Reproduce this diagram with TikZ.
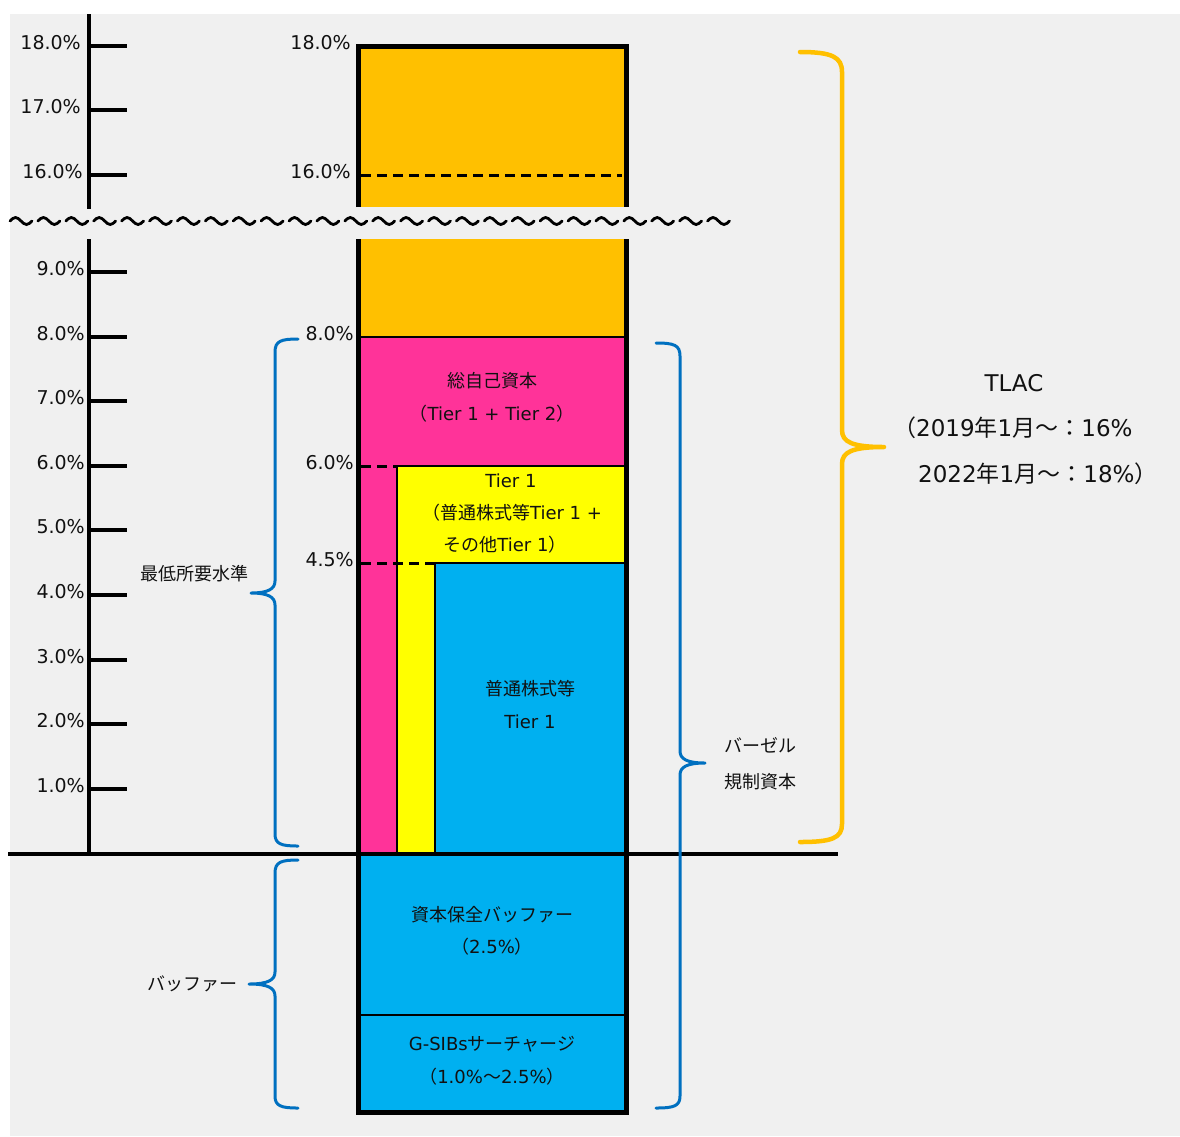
\documentclass[tikz,border=0pt]{standalone}
\usepackage{fontspec}
\setmainfont{DejaVu Sans}
\newfontfamily\jp{Noto Sans CJK JP}
\newcommand\J[1]{{\jp #1}}
\definecolor{bggray}{HTML}{F0F0F0}
\definecolor{orangefill}{HTML}{FFC000}
\definecolor{pinkfill}{HTML}{FF3399}
\definecolor{yellowfill}{HTML}{FFFF00}
\definecolor{bluefill}{HTML}{00B0F0}
\definecolor{bracecol}{HTML}{0070C0}
\definecolor{txtcol}{HTML}{111111}
\tikzset{
  lbl/.style={font=\fontsize{19}{22}\selectfont, text=txtcol, inner sep=0pt},
  txt/.style={font=\fontsize{18}{22}\selectfont, text=txtcol, inner sep=0pt},
  bigtxt/.style={font=\fontsize{23}{27}\selectfont, text=txtcol, inner sep=0pt},
  thick axis/.style={line width=4.5pt, draw=black},
  thinline/.style={line width=2pt, draw=black},
  dashline/.style={line width=3pt, draw=black, dash pattern=on 10pt off 6pt},
  border/.style={line width=5pt, draw=black, line join=miter},
  wavestyle/.style={line width=2.8pt, draw=black, line cap=round},
  bluebrace/.style={draw=bracecol, line width=3pt, line cap=round, line join=round},
  orangebrace/.style={draw=orangefill, line width=4.5pt, line cap=round, line join=round},
}
\begin{document}
\begin{tikzpicture}[x=1pt,y=-1pt]
\useasboundingbox (0,0) rectangle (1180,1136);
% background
\fill[bggray] (10,14) rectangle (1180,1136);

% column fills
\fill[orangefill] (358,46) rectangle (626,207);
\fill[orangefill] (358,239) rectangle (626,337);
\fill[pinkfill] (358,337) rectangle (626,854);
\fill[yellowfill] (397,466) rectangle (626,854);
\fill[bluefill] (435,563) rectangle (626,854);
\fill[bluefill] (358,854) rectangle (626,1112);

% thin dividers
\draw[thinline] (358,337) -- (626,337);
\draw[thinline] (397,466) -- (626,466);
\draw[thinline] (397,466) -- (397,854);
\draw[thinline] (435,563) -- (626,563);
\draw[thinline] (435,563) -- (435,854);
\draw[thinline] (358,1015) -- (626,1015);

% dashed level lines
\draw[dashline] (361,175) -- (622,175);
\draw[dashline] (361,466) -- (397,466);
\draw[dashline] (361,563) -- (435,563);

% column border
\draw[border] (358,207) -- (358,46) -- (626,46) -- (626,207);
\draw[border] (358,239) -- (358,1112) -- (626,1112) -- (626,239);

% left axis
\draw[thick axis] (89,14) -- (89,209);
\draw[thick axis] (89,239) -- (89,854);
\foreach \y in {46,110,175,272,337,401,466,530,595,660,724,789}
  \draw[thick axis] (89,\y) -- (127,\y);
\foreach \v/\y/\x [count=\i] in {18.0/46/81,17.0/110/81,16.0/175/83,9.0/272/85,8.0/337/85,7.0/401/85,6.0/466/85,5.0/530/85,4.0/595/85,3.0/660/85,2.0/724/85,1.0/789/85}
  \node[lbl, anchor=base east] (ax\i) at (\x,\y+3.5) {\v\%};

% labels beside column
\node[lbl, anchor=base east] (cl1) at (351,46+3.5) {18.0\%};
\node[lbl, anchor=base east] (cl2) at (351,175+3.5) {16.0\%};
\node[lbl, anchor=base east] (cl3) at (354,337+3.5) {8.0\%};
\node[lbl, anchor=base east] (cl4) at (354,466+3.5) {6.0\%};
\node[lbl, anchor=base east] (cl5) at (354,563+3.5) {4.5\%};

% baseline
\draw[line width=4pt] (8,854) -- (838,854);

% break wave
\foreach \i in {0,...,25}
  \draw[wavestyle] ({10+\i*27.9},221) sin ++(5.5,-3.5) cos ++(5.5,3.5) sin ++(5.5,3.5) cos ++(5.5,-3.5);

% braces
\draw[bluebrace] (298,339) .. controls (281,339) and (275,341) .. (275,352) -- (275,581)
  .. controls (275,589) and (268,593) .. (251,593)
  .. controls (268,593) and (275,597) .. (275,605) -- (275,834)
  .. controls (275,844) and (281,846) .. (298,846);
\draw[bluebrace] (298,860) .. controls (281,860) and (275,862) .. (275,873) -- (275,972)
  .. controls (275,980) and (268,984) .. (249,984)
  .. controls (268,984) and (275,988) .. (275,996) -- (275,1096)
  .. controls (275,1106) and (281,1108) .. (298,1108);
\draw[bluebrace] (656,343) .. controls (674,343) and (680,345) .. (680,356) -- (680,751)
  .. controls (680,759) and (687,763) .. (705,763)
  .. controls (687,763) and (680,767) .. (680,775) -- (680,1096)
  .. controls (680,1106) and (674,1108) .. (656,1108);
\draw[orangebrace] (800,52) .. controls (832,52) and (842,57) .. (842,72) -- (842,430)
  .. controls (842,442) and (852,447) .. (884,447)
  .. controls (852,447) and (842,452) .. (842,464) -- (842,824)
  .. controls (842,838) and (832,842) .. (800,842);

% texts in column
\node[txt] (n1) at (492,381) {\J{総自己資本}};
\node[txt] (n2) at (492,414) {\J{（}Tier 1 + Tier 2\J{）}};
\node[txt] (t1) at (511,481) {Tier 1};
\node[txt] (t2) at (512,513) {\J{（普通株式等}Tier 1 +};
\node[txt] (t3) at (505,545) {\J{その他}Tier 1\J{）}};
\node[txt] (c1) at (530,689) {\J{普通株式等}};
\node[txt] (c2) at (530,722) {Tier 1};
\node[txt] (b1) at (492,915) {\J{資本保全バッファー}};
\node[txt] (b2) at (492,947) {\J{（}2.5\%\J{）}};
\node[txt] (g1) at (492,1044) {G-SIBs\J{サーチャージ}};
\node[txt] (g2) at (492,1077) {\J{（}1.0\%\J{〜}2.5\%\J{）}};

% side labels
\node[txt] (minreq) at (194,574) {\J{最低所要水準}};
\node[txt] (buf) at (192,984) {\J{バッファー}};
\node[txt, anchor=west] (basel1) at (724,745) {\J{バーゼル}};
\node[txt, anchor=west] (basel2) at (724,782) {\J{規制資本}};
\node[bigtxt] (tlac) at (1014,383) {TLAC};
\node[bigtxt, anchor=west] (tlac2) at (893,428) {\J{（}2019\J{年}1\J{月〜：}16\%};
\node[bigtxt, anchor=west] (tlac3) at (918,474) {2022\J{年}1\J{月〜：}18\%\J{）}};
\end{tikzpicture}
\end{document}
